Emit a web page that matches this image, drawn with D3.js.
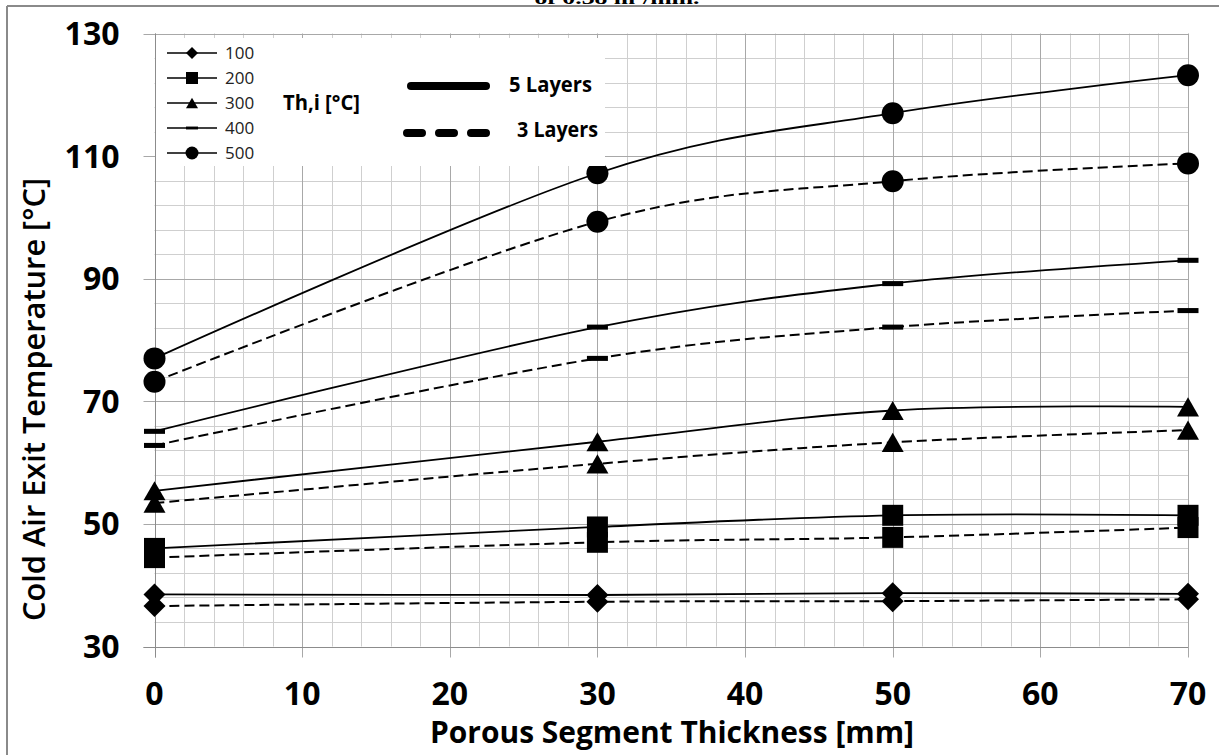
<!DOCTYPE html>
<html>
<head>
<meta charset="utf-8">
<script src="https://cdn.jsdelivr.net/npm/d3@7"></script>
<style>
  html, body { margin: 0; padding: 0; background: #fff; }
  svg { display: block; }
</style>
</head>
<body>
<svg id="chart" width="1219" height="755"></svg>
<script>
// ---------------- DATA ----------------
const thickness = [0, 30, 50, 70];                 // mm
const hotInletTemps = ["100", "200", "300", "400", "500"]; // Th,i [°C]
const markerTypes = ["diamond", "square", "triangle", "dash", "circle"];

// 5 layers (solid lines)
const fiveLayers100 = [38.5, 38.4, 38.7, 38.6];
const fiveLayers200 = [46.0, 49.5, 51.4, 51.4];
const fiveLayers300 = [55.4, 63.4, 68.5, 69.1];
const fiveLayers400 = [65.1, 82.1, 89.2, 93.0];
const fiveLayers500 = [77.0, 107.2, 117.0, 123.2];

// 3 layers (dashed lines)
const threeLayers100 = [36.6, 37.3, 37.4, 37.7];
const threeLayers200 = [44.5, 47.0, 47.8, 49.4];
const threeLayers300 = [53.4, 59.8, 63.3, 65.3];
const threeLayers400 = [62.8, 77.0, 82.1, 84.8];
const threeLayers500 = [73.2, 99.3, 105.9, 108.8];

const xTicks = [0, 10, 20, 30, 40, 50, 60, 70];
const yTicks = [30, 50, 70, 90, 110, 130];
const xMinor = d3.range(0, 70.001, 2);
const yMinor = d3.range(30, 130.001, 4);

const xTitle = "Porous Segment Thickness [mm]";
const yTitle = "Cold Air Exit Temperature [°C]";
const titleFragment = "of 0.38 m³/min.";
const legendTitle = "Th,i [°C]";
const layerLabels = ["5 Layers", "3 Layers"];

// ---------------- BUILD ----------------
const series = [];
const five = [fiveLayers100, fiveLayers200, fiveLayers300, fiveLayers400, fiveLayers500];
const three = [threeLayers100, threeLayers200, threeLayers300, threeLayers400, threeLayers500];
hotInletTemps.forEach((t, i) => {
  series.push({ temp: t, marker: markerTypes[i], dashed: false, values: five[i] });
  series.push({ temp: t, marker: markerTypes[i], dashed: true, values: three[i] });
});

const svg = d3.select("#chart");
const W = 1219, H = 755;

const plot = { left: 154.5, right: 1188, top: 33.5, bottom: 646.5 };
const x = d3.scaleLinear().domain([0, 70]).range([plot.left, plot.right]);
const y = d3.scaleLinear().domain([30, 130]).range([plot.bottom, plot.top]);

// outer frame (top + left)
svg.append("line").attr("x1", 7).attr("x2", W).attr("y1", 6).attr("y2", 6)
  .attr("stroke", "#8a8a8a").attr("stroke-width", 2);
svg.append("line").attr("x1", 7).attr("x2", 7).attr("y1", 6).attr("y2", H)
  .attr("stroke", "#8a8a8a").attr("stroke-width", 2);

// cut-off title fragment (cropped in the reference as well)
svg.append("text").attr("x", 617).attr("y", 3.5)
  .attr("text-anchor", "middle")
  .attr("font-family", "Liberation Serif, serif").attr("font-weight", "bold")
  .attr("font-size", 17).attr("textLength", 165).attr("lengthAdjust", "spacingAndGlyphs")
  .attr("fill", "#000").text(titleFragment);

// grid
const grid = svg.append("g");
grid.selectAll("line.vminor").data(xMinor.filter(v => v % 10 !== 0)).join("line")
  .attr("x1", d => Math.round(x(d)) + 0.5).attr("x2", d => Math.round(x(d)) + 0.5)
  .attr("y1", plot.top).attr("y2", plot.bottom)
  .attr("stroke", "#cfcfcf").attr("stroke-width", 1);
grid.selectAll("line.hminor").data(yMinor.filter(v => (v - 30) % 20 !== 0)).join("line")
  .attr("y1", d => Math.round(y(d)) + 0.5).attr("y2", d => Math.round(y(d)) + 0.5)
  .attr("x1", plot.left).attr("x2", plot.right)
  .attr("stroke", "#cfcfcf").attr("stroke-width", 1);
grid.selectAll("line.vmajor").data(xTicks).join("line")
  .attr("x1", d => Math.round(x(d)) + 0.5).attr("x2", d => Math.round(x(d)) + 0.5)
  .attr("y1", plot.top).attr("y2", plot.bottom + 11)
  .attr("stroke", "#a8a8a8").attr("stroke-width", 1);
grid.selectAll("line.hmajor").data(yTicks).join("line")
  .attr("y1", d => Math.round(y(d)) + 0.5).attr("y2", d => Math.round(y(d)) + 0.5)
  .attr("x1", plot.left - 11).attr("x2", plot.right)
  .attr("stroke", "#a8a8a8").attr("stroke-width", 1);

// axes lines
svg.append("line").attr("x1", Math.round(plot.left) + 0.5).attr("x2", Math.round(plot.left) + 0.5)
  .attr("y1", plot.top).attr("y2", plot.bottom + 11).attr("stroke", "#8c8c8c");
svg.append("line").attr("y1", Math.round(plot.bottom) + 0.5).attr("y2", Math.round(plot.bottom) + 0.5)
  .attr("x1", plot.left - 11).attr("x2", plot.right).attr("stroke", "#8c8c8c");

// tick labels
const tickFont = "'Open Sans', sans-serif";
svg.append("g").selectAll("text").data(xTicks).join("text")
  .attr("x", d => x(d)).attr("y", 705)
  .attr("text-anchor", "middle").attr("font-family", tickFont).attr("font-weight", "bold")
  .attr("font-size", 32).attr("fill", "#000").text(d => d);
svg.append("g").selectAll("text").data(yTicks).join("text")
  .attr("x", 119.5).attr("y", d => y(d) + 11.5)
  .attr("text-anchor", "end").attr("font-family", tickFont).attr("font-weight", "bold")
  .attr("font-size", 32).attr("fill", "#000").text(d => d);

// axis titles
svg.append("text").attr("x", 672).attr("y", 743)
  .attr("text-anchor", "middle").attr("font-family", tickFont).attr("font-weight", "bold")
  .attr("font-size", 30).attr("textLength", 484).attr("lengthAdjust", "spacingAndGlyphs")
  .attr("fill", "#000").text(xTitle);
svg.append("text").attr("transform", "translate(45,399.5) rotate(-90)")
  .attr("text-anchor", "middle").attr("font-family", tickFont).attr("font-weight", 600)
  .attr("font-size", 30).attr("textLength", 443).attr("lengthAdjust", "spacingAndGlyphs")
  .attr("fill", "#000").text(yTitle);

// marker path generator
function markerPath(type, s) {
  const h = s / 2;
  switch (type) {
    case "diamond": return `M0,${-h}L${h},0L0,${h}L${-h},0Z`;
    case "square": return `M${-h},${-h}H${h}V${h}H${-h}Z`;
    case "triangle": {
      const th = s * 0.87;
      return `M0,${-th / 2}L${h},${th / 2}L${-h},${th / 2}Z`;
    }
    case "dash": return `M${-h},${-s * 0.12}H${h}V${s * 0.12}H${-h}Z`;
    case "circle": return `M${h},0A${h},${h} 0 1,1 ${-h},0A${h},${h} 0 1,1 ${h},0Z`;
  }
}
const markerSize = { diamond: 22, square: 21, triangle: 22, dash: 21, circle: 22 };

// lines
const lineGen = d3.line()
  .x((d, i) => x(thickness[i]))
  .y(d => y(d))
  .curve(d3.curveCardinal.tension(0));

const lines = svg.append("g");
series.forEach(s => {
  lines.append("path").attr("d", lineGen(s.values))
    .attr("fill", "none").attr("stroke", "#000")
    .attr("stroke-width", s.dashed ? 2 : 1.8)
    .attr("stroke-dasharray", s.dashed ? "10,5" : null);
});
const marks = svg.append("g");
series.forEach(s => {
  marks.selectAll(null).data(s.values).join("path")
    .attr("transform", (d, i) => `translate(${x(thickness[i])},${y(d)})`)
    .attr("d", markerPath(s.marker, markerSize[s.marker]))
    .attr("fill", "#000");
});

// legend box
const lg = svg.append("g");
lg.append("rect").attr("x", 156).attr("y", 38).attr("width", 449).attr("height", 128).attr("fill", "#fff");
const legRows = [53, 78, 103, 128, 153];
hotInletTemps.forEach((t, i) => {
  const yy = legRows[i];
  lg.append("line").attr("x1", 167).attr("x2", 217).attr("y1", yy).attr("y2", yy)
    .attr("stroke", "#000").attr("stroke-width", 1.5);
  const sz = { diamond: 12, square: 12, triangle: 12, dash: 12, circle: 13 }[markerTypes[i]];
  lg.append("path").attr("transform", `translate(192,${yy})`)
    .attr("d", markerPath(markerTypes[i], sz)).attr("fill", "#000");
  lg.append("text").attr("x", 225).attr("y", yy + 6)
    .attr("font-family", tickFont).attr("font-size", 17).attr("fill", "#222").text(t);
});
lg.append("text").attr("x", 283).attr("y", 110)
  .attr("font-family", tickFont).attr("font-weight", "bold").attr("font-size", 21)
  .attr("textLength", 77).attr("lengthAdjust", "spacingAndGlyphs").attr("fill", "#000").text(legendTitle);
lg.append("line").attr("x1", 411).attr("x2", 486).attr("y1", 86).attr("y2", 86)
  .attr("stroke", "#000").attr("stroke-width", 8).attr("stroke-linecap", "round");
lg.append("line").attr("x1", 407).attr("x2", 486).attr("y1", 133).attr("y2", 133)
  .attr("stroke", "#000").attr("stroke-width", 8).attr("stroke-linecap", "round")
  .attr("stroke-dasharray", "15,17");
lg.append("text").attr("x", 509).attr("y", 92)
  .attr("font-family", tickFont).attr("font-weight", "bold").attr("font-size", 21)
  .attr("textLength", 83).attr("lengthAdjust", "spacingAndGlyphs").attr("fill", "#000").text(layerLabels[0]);
lg.append("text").attr("x", 517).attr("y", 137)
  .attr("font-family", tickFont).attr("font-weight", "bold").attr("font-size", 21)
  .attr("textLength", 81).attr("lengthAdjust", "spacingAndGlyphs").attr("fill", "#000").text(layerLabels[1]);
</script>
</body>
</html>
